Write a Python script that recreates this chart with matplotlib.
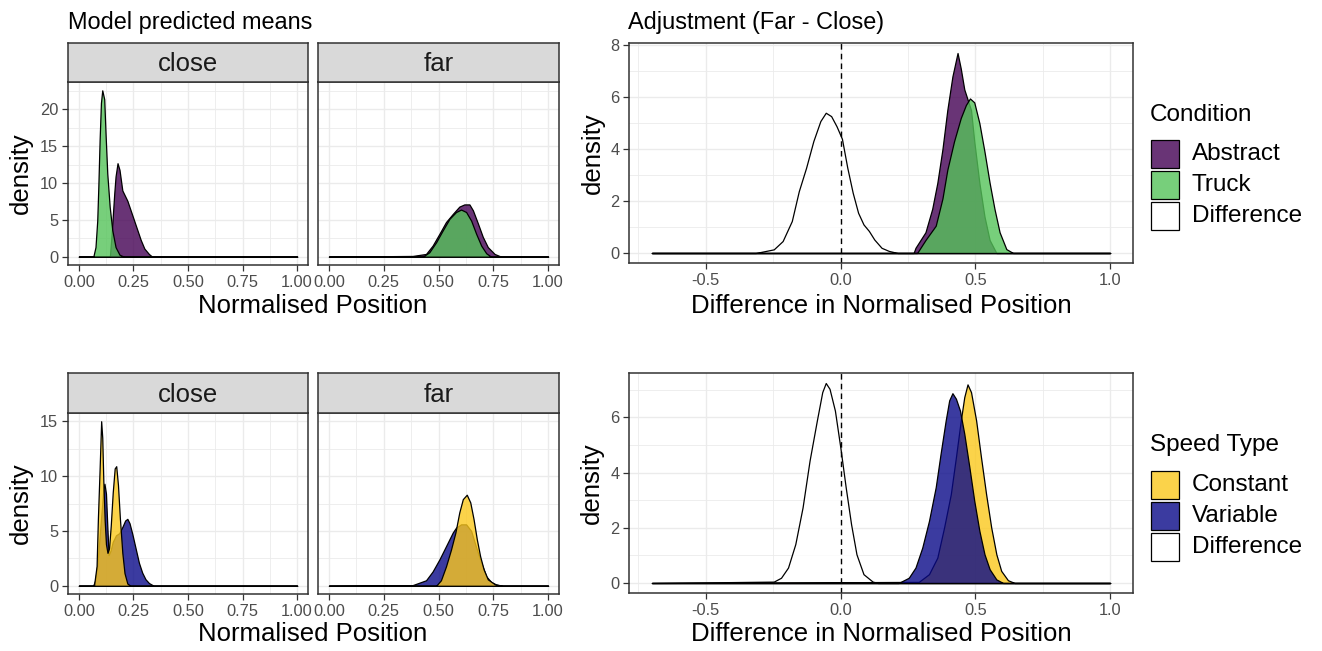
import matplotlib
matplotlib.use('Agg')
import matplotlib.pyplot as plt
from matplotlib.patches import Rectangle
from matplotlib.colors import to_rgba
from matplotlib.ticker import MultipleLocator, FormatStrFormatter

plt.rcParams['font.family'] = ['Liberation Sans', 'DejaVu Sans']
plt.rcParams['axes.unicode_minus'] = False

# ---- posterior densities, top row (Condition) ----
close_abstract_x = [0.0, 0.142, 0.150, 0.156, 0.162, 0.168, 0.177, 0.186, 0.199, 0.222, 0.252, 0.283, 0.300, 0.321, 0.336, 1.0]
close_abstract_y = [0, 0, 3.1, 5.85, 8.6, 10.9, 12.7, 11.8, 9.0, 7.6, 5.0, 2.3, 1.1, 0.36, 0, 0]
close_truck_x = [0.0, 0.066, 0.076, 0.084, 0.089, 0.095, 0.101, 0.107, 0.116, 0.122, 0.130, 0.141, 0.153, 0.168, 0.186, 0.206, 1.0]
close_truck_y = [0, 0, 1.3, 4.9, 9.5, 15.9, 20.9, 22.6, 21.4, 16.8, 11.3, 6.8, 3.6, 1.3, 0.27, 0, 0]

far_abstract_x = [0.0, 0.382, 0.443, 0.473, 0.504, 0.534, 0.565, 0.595, 0.618, 0.641, 0.657, 0.680, 0.702, 0.725, 0.756, 0.786, 1.0]
far_abstract_y = [0, 0.1, 0.37, 1.5, 3.1, 4.7, 5.8, 6.8, 7.1, 7.1, 6.3, 4.5, 2.7, 1.3, 0.37, 0, 0]
far_truck_x = [0.0, 0.428, 0.458, 0.489, 0.519, 0.550, 0.580, 0.603, 0.626, 0.649, 0.672, 0.695, 0.718, 0.740, 1.0]
far_truck_y = [0, 0, 0.6, 1.96, 3.56, 5.15, 6.07, 6.4, 6.07, 4.9, 3.1, 1.5, 0.46, 0, 0]

adj_abstract_x = [-0.7, 0.271, 0.278, 0.315, 0.340, 0.359, 0.378, 0.396, 0.415, 0.434, 0.446, 0.459, 0.484, 0.496, 0.515, 0.534, 0.553, 0.578, 1.0]
adj_abstract_y = [0, 0, 0.2, 0.8, 1.7, 2.7, 4.0, 5.5, 6.8, 7.7, 7.1, 6.3, 5.5, 4.3, 2.7, 1.4, 0.5, 0, 0]
adj_truck_x = [-0.7, 0.284, 0.315, 0.353, 0.378, 0.396, 0.421, 0.446, 0.465, 0.480, 0.496, 0.515, 0.534, 0.553, 0.571, 0.590, 0.615, 0.640, 1.0]
adj_truck_y = [0, 0, 0.5, 1.05, 2.1, 3.2, 4.3, 5.2, 5.7, 5.95, 5.8, 5.0, 3.9, 2.7, 1.7, 0.8, 0.15, 0, 0]
adj_cond_diff_x = [-0.7, -0.315, -0.248, -0.215, -0.181, -0.155, -0.128, -0.101, -0.075, -0.055, -0.035, -0.015, 0.005,
                   0.025, 0.045, 0.065, 0.085, 0.105, 0.125, 0.152, 0.179, 0.212, 1.0]
adj_cond_diff_y = [0, 0, 0.14, 0.46, 1.23, 2.38, 3.28, 4.31, 5.08, 5.40, 5.27, 4.88, 4.4,
                   3.28, 2.32, 1.55, 1.10, 0.85, 0.52, 0.2, 0.08, 0, 0]

# ---- posterior densities, bottom row (Speed Type) ----
close_constant_x = [0.0, 0.069, 0.081, 0.087, 0.095, 0.102, 0.107, 0.112, 0.118, 0.124, 0.131, 0.138, 0.146, 0.155,
                    0.164, 0.171, 0.179, 0.188, 0.199, 0.209, 0.222, 0.237, 1.0]
close_constant_y = [0, 0, 1.8, 6.1, 10.7, 15.0, 13.5, 9.5, 6.0, 3.8, 3.0, 3.4, 5.5, 8.5,
                    10.7, 10.9, 9.2, 6.1, 3.0, 1.15, 0.2, 0, 0]
close_variable_x = [0.0, 0.065, 0.075, 0.085, 0.095, 0.105, 0.112, 0.117, 0.124, 0.130, 0.136, 0.145, 0.155, 0.170,
                    0.185, 0.200, 0.212, 0.222, 0.232, 0.245, 0.260, 0.275, 0.290, 0.305, 0.321, 0.343, 1.0]
close_variable_y = [0, 0, 0.5, 2.0, 4.5, 7.0, 8.8, 9.3, 8.4, 5.5, 2.8, 3.2, 4.0, 4.6,
                    4.8, 5.4, 5.95, 6.1, 5.7, 4.7, 3.4, 2.1, 1.2, 0.6, 0.25, 0, 0]

far_constant_x = [0.0, 0.489, 0.511, 0.534, 0.557, 0.577, 0.595, 0.611, 0.629, 0.645, 0.660, 0.675, 0.690, 0.706,
                  0.725, 0.756, 0.786, 1.0]
far_constant_y = [0, 0, 0.5, 1.76, 3.3, 4.85, 6.7, 7.9, 8.3, 7.6, 6.08, 4.23, 2.7, 1.5, 0.59, 0.15, 0, 0]
far_variable_x = [0.0, 0.382, 0.443, 0.473, 0.504, 0.534, 0.565, 0.580, 0.603, 0.626, 0.649, 0.672, 0.695, 0.718,
                  0.740, 0.763, 0.794, 1.0]
far_variable_y = [0, 0.06, 0.5, 1.3, 2.4, 3.6, 4.85, 5.3, 5.6, 5.6, 5.0, 3.5, 2.1, 0.85, 0.35, 0.12, 0, 0]

adj_constant_x = [-0.7, 0.290, 0.328, 0.359, 0.384, 0.409, 0.428, 0.446, 0.459, 0.471, 0.484, 0.503, 0.521, 0.540,
                  0.559, 0.578, 0.596, 0.621, 0.646, 1.0]
adj_constant_y = [0, 0.04, 0.32, 0.92, 2.01, 3.22, 4.56, 5.89, 6.74, 7.2, 6.92, 5.89, 4.56, 3.22, 2.01, 1.04, 0.44,
                  0.1, 0, 0]
adj_variable_x = [-0.7, 0.215, 0.253, 0.278, 0.303, 0.328, 0.353, 0.371, 0.390, 0.403, 0.415, 0.428, 0.443, 0.459,
                  0.478, 0.496, 0.515, 0.534, 0.553, 0.578, 0.603, 1.0]
adj_variable_y = [0, 0, 0.19, 0.56, 1.28, 2.25, 3.47, 4.68, 5.89, 6.62, 6.88, 6.68, 6.25, 5.41, 4.19, 2.98, 1.89,
                  1.04, 0.5, 0.13, 0, 0]
adj_speed_diff_x = [-0.7, -0.248, -0.221, -0.195, -0.168, -0.141, -0.115, -0.088, -0.068, -0.055, -0.041, -0.021,
                    -0.001, 0.019, 0.039, 0.059, 0.085, 0.119, 0.139, 1.0]
adj_speed_diff_y = [0, 0.05, 0.19, 0.56, 1.41, 2.74, 4.44, 5.89, 6.92, 7.25, 7.04, 6.25, 4.92, 3.47, 2.13, 1.04,
                    0.32, 0.05, 0, 0]

condition_labels = ['Abstract', 'Truck', 'Difference']
speed_labels = ['Constant', 'Variable', 'Difference']
facet_labels = ['close', 'far']

PURPLE = '#440154'
GREEN = '#55C45A'
YELLOW = '#FBC81D'
BLUE = '#0A0A88'
WHITE = '#FFFFFF'
ALPHA = 0.8

W, H = 1322, 651
fig = plt.figure(figsize=(W / 100, H / 100), dpi=100)
fig.patch.set_facecolor('white')


def px_axes(left, top, right, bottom, **kw):
    # place an axes using pixel edges measured from the top-left corner
    return fig.add_axes([left / W, 1 - bottom / H, (right - left) / W, (bottom - top) / H], **kw)


def fx(x):
    return x / W


def fy(y):
    return 1 - y / H


def style_panel(ax, xmajor, ymajor):
    ax.set_facecolor('white')
    ax.xaxis.set_major_locator(MultipleLocator(xmajor))
    ax.xaxis.set_minor_locator(MultipleLocator(xmajor / 2))
    ax.yaxis.set_major_locator(MultipleLocator(ymajor))
    ax.yaxis.set_minor_locator(MultipleLocator(ymajor / 2))
    ax.grid(True, which='major', color='#EBEBEB', linewidth=1.0)
    ax.grid(True, which='minor', color='#EBEBEB', linewidth=0.6)
    ax.set_axisbelow(True)
    for s in ax.spines.values():
        s.set_color('#333333')
        s.set_linewidth(1.1)
    ax.tick_params(which='major', length=4, width=0.9, color='#333333',
                   labelsize=11.8, labelcolor='#4D4D4D', pad=3)
    ax.tick_params(which='minor', length=0)
    ax.margins(x=0.05, y=0.05)


def density(ax, x, y, color):
    ax.fill_between(x, y, 0, facecolor=to_rgba(color, ALPHA), edgecolor='black', linewidth=0.9)


def strip(left, top, right, bottom, label):
    s = px_axes(left, top, right, bottom)
    s.set_facecolor('#D9D9D9')
    s.set_xticks([])
    s.set_yticks([])
    for sp in s.spines.values():
        sp.set_color('#333333')
        sp.set_linewidth(1.1)
    s.text(0.5, 0.45, label, ha='center', va='center', fontsize=18.5, color='#1A1A1A', transform=s.transAxes)


def legend(title, labels, colors, title_y, key_tops):
    fig.text(fx(1150), fy(title_y), title, ha='left', va='center', fontsize=17.5, color='black')
    for lab, col, top in zip(labels, colors, key_tops):
        fig.add_artist(Rectangle((fx(1151), fy(top + 28)), 28 / W, 28 / H, transform=fig.transFigure,
                                 facecolor=to_rgba(col, ALPHA), edgecolor='black', linewidth=0.9))
        fig.text(fx(1192), fy(top + 14), lab, ha='left', va='center', fontsize=17.5, color='black')


# ---------- top row ----------
ax_tc = px_axes(68, 82, 308, 265)
ax_tf = px_axes(318, 82, 559, 265, sharey=ax_tc)
density(ax_tc, close_abstract_x, close_abstract_y, PURPLE)
density(ax_tc, close_truck_x, close_truck_y, GREEN)
density(ax_tf, far_abstract_x, far_abstract_y, PURPLE)
density(ax_tf, far_truck_x, far_truck_y, GREEN)
for a in (ax_tc, ax_tf):
    style_panel(a, 0.25, 5)
    a.xaxis.set_major_formatter(FormatStrFormatter('%.2f'))
ax_tf.tick_params(axis='y', labelleft=False, length=0)
strip(68, 43, 308, 82, facet_labels[0])
strip(318, 43, 559, 82, facet_labels[1])

ax_tr = px_axes(629, 43, 1133, 263)
density(ax_tr, adj_cond_diff_x, adj_cond_diff_y, WHITE)
density(ax_tr, adj_abstract_x, adj_abstract_y, PURPLE)
density(ax_tr, adj_truck_x, adj_truck_y, GREEN)
ax_tr.axvline(0, color='black', linestyle=(0, (4, 3)), linewidth=1.0)
style_panel(ax_tr, 0.5, 2)

# ---------- bottom row ----------
ax_bc = px_axes(68, 413, 308, 594)
ax_bf = px_axes(318, 413, 559, 594, sharey=ax_bc)
density(ax_bc, close_variable_x, close_variable_y, BLUE)
density(ax_bc, close_constant_x, close_constant_y, YELLOW)
density(ax_bf, far_variable_x, far_variable_y, BLUE)
density(ax_bf, far_constant_x, far_constant_y, YELLOW)
for a in (ax_bc, ax_bf):
    style_panel(a, 0.25, 5)
    a.xaxis.set_major_formatter(FormatStrFormatter('%.2f'))
ax_bf.tick_params(axis='y', labelleft=False, length=0)
strip(68, 373, 308, 413, facet_labels[0])
strip(318, 373, 559, 413, facet_labels[1])

ax_br = px_axes(629, 373, 1133, 593)
density(ax_br, adj_speed_diff_x, adj_speed_diff_y, WHITE)
density(ax_br, adj_constant_x, adj_constant_y, YELLOW)
density(ax_br, adj_variable_x, adj_variable_y, BLUE)
ax_br.axvline(0, color='black', linestyle=(0, (4, 3)), linewidth=1.0)
style_panel(ax_br, 0.5, 2)

# ---------- titles and axis labels ----------
fig.text(fx(68), fy(22), 'Model predicted means', ha='left', va='center', fontsize=16.9, color='black')
fig.text(fx(628), fy(22), 'Adjustment (Far - Close)', ha='left', va='center', fontsize=16.9, color='black')

for yc in (306, 634):
    fig.text(fx(313), fy(yc), 'Normalised Position', ha='center', va='center', fontsize=18.5, color='black')
    fig.text(fx(881), fy(yc), 'Difference in Normalised Position', ha='center', va='center', fontsize=18.5,
             color='black')
for yc, xc in ((173, 21), (153, 593), (503, 21), (483, 592)):
    fig.text(fx(xc), fy(yc), 'density', ha='center', va='center', rotation=90, fontsize=18.5, color='black')

legend('Condition', condition_labels, [PURPLE, GREEN, WHITE], 115, [140, 171, 202])
legend('Speed Type', speed_labels, [YELLOW, BLUE, WHITE], 445, [471, 502, 533])

fig.savefig('out.png', dpi=100)
